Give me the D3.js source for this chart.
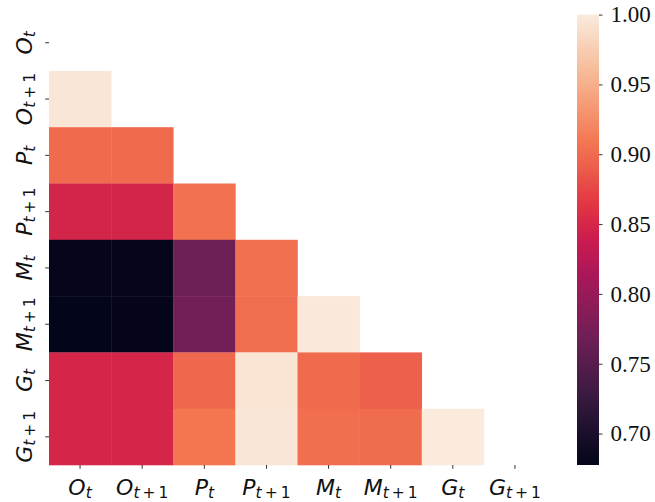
<!DOCTYPE html>
<html>
<head>
<meta charset="utf-8">
<script src="https://cdn.jsdelivr.net/npm/d3@7"></script>
<style>
  html, body { margin: 0; padding: 0; background: #fff; }
  svg { display: block; }
</style>
</head>
<body>
<svg id="chart" width="655" height="502"></svg>
<script>
// Variable labels: base letter and time subscript
const labelBase = ["O", "O", "P", "P", "M", "M", "G", "G"];
const labelSub  = ["t", "t+1", "t", "t+1", "t", "t+1", "t", "t+1"];

// Lower-triangle correlations, row i holds columns 0..i-1
const row1 = [0.996];
const row2 = [0.900, 0.900];
const row3 = [0.847, 0.847, 0.905];
const row4 = [0.679, 0.679, 0.768, 0.904];
const row5 = [0.6775, 0.678, 0.772, 0.902, 0.998];
const row6 = [0.849, 0.849, 0.898, 0.995, 0.900, 0.893];
const row7 = [0.849, 0.849, 0.908, 0.996, 0.903, 0.901, 1.000];
const rows = [[], row1, row2, row3, row4, row5, row6, row7];

// Colorbar ticks
const cbarTicks = [0.70, 0.75, 0.80, 0.85, 0.90, 0.95, 1.00];

// "rocket" colormap anchor colours
const rocketStops = [
  [0.0, "#03051a"], [1/7, "#35193e"], [2/7, "#701f57"], [3/7, "#ad1759"],
  [0.5, "#cb1b4f"], [4/7, "#e13342"], [5/7, "#f37651"], [6/7, "#f6b48f"], [1.0, "#faebdd"]
];
const rocket = d3.scaleLinear()
  .domain(rocketStops.map(d => d[0]))
  .range(rocketStops.map(d => d[1]))
  .interpolate(d3.interpolateRgb);

const cells = [];
rows.forEach((r, i) => r.forEach((v, j) => cells.push({ i, j, v })));
const [vmin, vmax] = d3.extent(cells, d => d.v);
const color = v => rocket((v - vmin) / (vmax - vmin));

const svg = d3.select("#chart");
const idx = d3.range(8);
const x = d3.scaleBand().domain(idx).range([49, 546]);
const y = d3.scaleBand().domain(idx).range([14.6, 465]);

// Heatmap cells
svg.append("g").selectAll("rect").data(cells).join("rect")
  .attr("x", d => x(d.j)).attr("y", d => y(d.i))
  .attr("width", x.bandwidth() + 0.3).attr("height", y.bandwidth() + 0.3)
  .attr("fill", d => color(d.v));

// Math-style label: italic letter with a smaller subscript
const subSize = "15.5px";
function mathLabel(sel, i) {
  sel.append("tspan").text(labelBase[i]).style("font-style", "italic");
  const sub = labelSub[i];
  sel.append("tspan").text("t").style("font-style", "italic")
    .style("font-size", subSize).attr("dy", 2.5);
  if (sub === "t+1") {
    sel.append("tspan").text("+").style("font-size", subSize).attr("dx", 3);
    sel.append("tspan").text("1").style("font-size", subSize).attr("dx", 3);
  }
}

const labelFont = "'DejaVu Sans'";
const labelSize = "22px";

// Bottom axis ticks and labels
const xAxis = svg.append("g");
idx.forEach(i => {
  const cx = x(i) + x.bandwidth() / 2;
  xAxis.append("line").attr("x1", cx).attr("x2", cx).attr("y1", 465).attr("y2", 468.8)
    .attr("stroke", "#333").attr("stroke-width", 1);
  const t = xAxis.append("text").attr("x", cx).attr("y", 495)
    .attr("text-anchor", "middle").style("font-family", labelFont)
    .style("font-size", labelSize).attr("fill", "#111");
  mathLabel(t, i);
});

// Left axis ticks and rotated labels
const yAxis = svg.append("g");
idx.forEach(i => {
  const cy = y(i) + y.bandwidth() / 2;
  yAxis.append("line").attr("x1", 45.2).attr("x2", 49).attr("y1", cy).attr("y2", cy)
    .attr("stroke", "#333").attr("stroke-width", 1);
  const t = yAxis.append("text")
    .attr("transform", `translate(32,${cy}) rotate(-90)`)
    .attr("text-anchor", "middle").style("font-family", labelFont)
    .style("font-size", labelSize).attr("fill", "#111");
  mathLabel(t, i);
});

// Colorbar
const cbX = 577, cbW = 22, cbTop = 14.6, cbBot = 465;
const cbScale = d3.scaleLinear().domain([vmin, vmax]).range([cbBot, cbTop]);
const defs = svg.append("defs");
const grad = defs.append("linearGradient").attr("id", "cbar")
  .attr("x1", 0).attr("y1", 1).attr("x2", 0).attr("y2", 0);
d3.range(0, 1.0001, 0.02).forEach(t => {
  grad.append("stop").attr("offset", t).attr("stop-color", rocket(t));
});
svg.append("rect").attr("x", cbX).attr("y", cbTop).attr("width", cbW)
  .attr("height", cbBot - cbTop).attr("fill", "url(#cbar)");

const cbAxis = d3.axisRight(cbScale).tickValues(cbarTicks)
  .tickFormat(d3.format(".2f")).tickSize(3.5).tickPadding(8);
const cbG = svg.append("g").attr("transform", `translate(${cbX + cbW},0)`).call(cbAxis);
cbG.select(".domain").remove();
cbG.selectAll(".tick line").attr("stroke", "#333");
cbG.selectAll(".tick text").style("font-family", "'Liberation Serif'")
  .style("font-size", "23px").attr("fill", "#111");
</script>
</body>
</html>
